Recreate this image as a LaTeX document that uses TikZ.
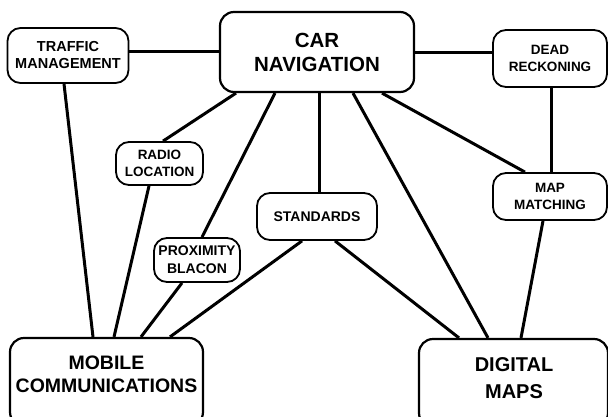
\documentclass[tikz,border=0pt]{standalone}
\usepackage{fontspec}
\setmainfont{Liberation Sans}
\begin{document}
\begin{tikzpicture}[x=1pt,y=-1pt,
  box/.style={draw, line width=1.8pt, rounded corners=13pt, fill=white, align=center, inner sep=0pt},
  bigbox/.style={box, line width=2.2pt, rounded corners=14pt},
  small/.style={font=\bfseries\fontsize{13.5}{17}\selectfont},
  mid/.style={font=\bfseries\fontsize{14}{18}\selectfont},
  large/.style={font=\bfseries\fontsize{20.5}{24}\selectfont},
  label/.style={align=center, inner sep=0pt},
  link/.style={line width=3pt},
]
\useasboundingbox (0,0) rectangle (608,416);
\clip (0,0) rectangle (608,416);
% nodes
\node[bigbox, large, minimum width=194pt, minimum height=80pt] (cn) at (317,52) {CAR\\NAVIGATION};
\node[box, font=\bfseries\fontsize{14.5}{17}\selectfont, minimum width=121pt, minimum height=55pt] (tm) at (68,55.5) {TRAFFIC\\MANAGEMENT};
\node[box, small, minimum width=114pt, minimum height=57pt] (dr) at (550,58.5) {DEAD\\RECKONING};
\node[box, small, minimum width=87pt, minimum height=43pt] (rl) at (159.5,163.5) {RADIO\\LOCATION};
\node[box, mid, minimum width=120pt, minimum height=47pt] (st) at (317,216.5) {STANDARDS};
\node[box, small, minimum width=114pt, minimum height=47pt] (mm) at (550,196.5) {MAP\\MATCHING};
\node[box, mid, minimum width=86pt, minimum height=44pt] (pr) at (197,260) {PROXIMITY\\BLACON};
\node[bigbox, minimum width=193pt, minimum height=88pt] (mc) at (106.5,382) {};
\node[label, font=\bfseries\fontsize{19.5}{23}\selectfont] (mct) at (106.5,374) {MOBILE\\COMMUNICATIONS};
\node[bigbox, minimum width=189pt, minimum height=88pt] (dm) at (513.5,383) {};
\node[label, font=\bfseries\fontsize{20}{27}\selectfont] (dmt) at (514,378.5) {DIGITAL\\MAPS};
% connectors
\draw[link] (tm.east |- 0,51) -- (cn.west |- 0,51);
\draw[link] (cn.east |- 0,52) -- (dr.west |- 0,52);
\draw[link] (tm.south -| 64,0) -- (mc.north -| 93,0);
\draw[link] (cn.south -| 236,0) -- (rl.north -| 163,0);
\draw[link] (rl.south -| 149,0) -- (mc.north -| 114,0);
\draw[link] (cn.south -| 275,0) -- (pr.north -| 202,0);
\draw[link] (pr.south -| 182,0) -- (mc.north -| 141,0);
\draw[link] (cn.south -| 319,0) -- (st.north -| 319,0);
\draw[link] (st.south -| 302,0) -- (mc.north -| 170,0);
\draw[link] (st.south -| 335,0) -- (dm.north -| 459,0);
\draw[link] (cn.south -| 353,0) -- (dm.north -| 488,0);
\draw[link] (cn.south -| 382,0) -- (mm.north -| 525,0);
\draw[link] (dr.south -| 551,0) -- (mm.north -| 551,0);
\draw[link] (mm.south -| 543,0) -- (dm.north -| 521,0);
\end{tikzpicture}
\end{document}
